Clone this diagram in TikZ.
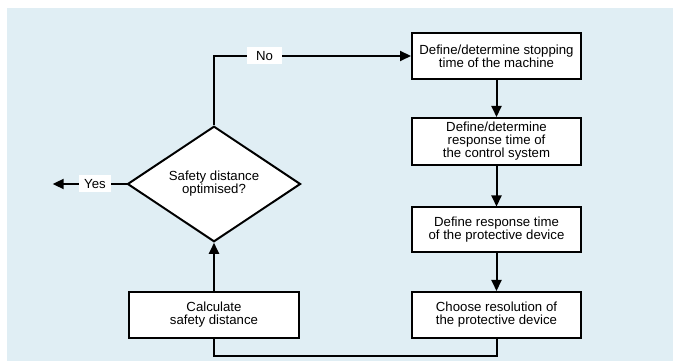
\documentclass[tikz,border=0pt]{standalone}
\usepackage{fontspec}
\setmainfont{Liberation Sans}
\usetikzlibrary{shapes.geometric,arrows.meta}
\definecolor{bgblue}{RGB}{224,238,244}
\begin{document}
\begin{tikzpicture}[x=1pt,y=1pt,
  every node/.style={font=\fontsize{13.2}{13}\selectfont, align=center},
  stepbox/.style={draw, line width=2pt, fill=white, minimum width=169pt, inner sep=0pt},
  decision/.style={draw, line width=2pt, fill=white, diamond, inner sep=0pt, minimum width=173pt, minimum height=114pt},
  tag/.style={fill=white, inner sep=0pt, minimum height=17pt},
  conn/.style={line width=2pt},
  arr/.style={conn, -{Triangle[length=11pt,width=10pt]}}
]
\useasboundingbox (0,0) rectangle (677,361);
\fill[bgblue] (7,0) rectangle (673,353);

\node[stepbox, minimum height=46pt] (b1) at (496.5,305) {Define/determine stopping\\time of the machine};
\node[stepbox, minimum height=47pt] (b2) at (496.5,219.5) {Define/determine\\response time of\\the control system};
\node[stepbox, minimum height=45pt] (b3) at (496.5,131) {Define response time\\of the protective device};
\node[stepbox, minimum height=46pt] (b4) at (496.5,46) {Choose resolution of\\the protective device};
\node[stepbox, minimum width=170pt, minimum height=46pt] (calc) at (214,46) {Calculate\\safety distance};
\node[decision] (d) at (214,177) {Safety distance\\optimised?};

\coordinate (yesend) at (52.7,177);
\coordinate (bot) at (496.5,5);

\draw[arr] (b1) -- (b2);
\draw[arr] (b2) -- (b3);
\draw[arr] (b3) -- (b4);
\draw[conn] (b4.south) -- (bot) -| (calc.south);
\draw[arr] (calc) -- (d);
\draw[arr] (d.north) |- (b1.west);
\draw[arr] (d.west) -- (yesend);

\node[tag, minimum width=35pt] (no) at (264.5,305) {No};
\node[tag, minimum width=32pt] (yes) at (95,177) {Yes};
\end{tikzpicture}
\end{document}
